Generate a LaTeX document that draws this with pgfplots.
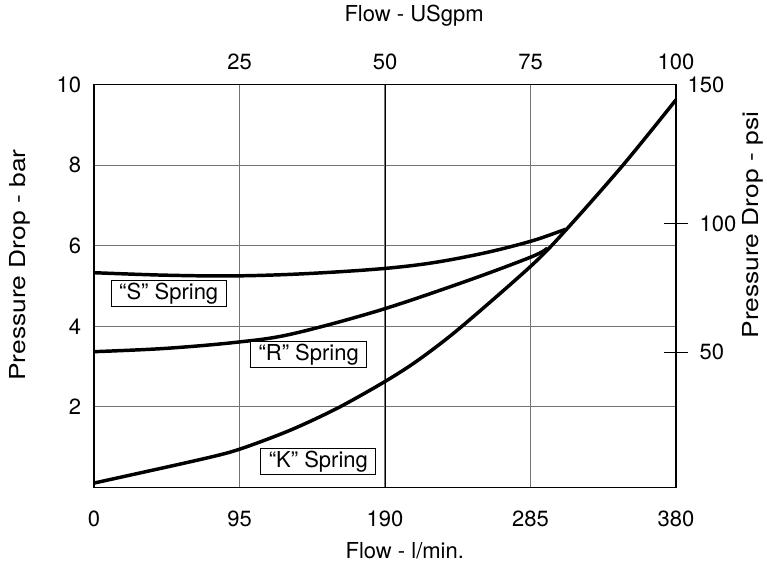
\documentclass[border=0pt]{standalone}
\usepackage{fontspec}
\setmainfont{TeX Gyre Heros}
\usepackage{graphicx}
\usepackage{pgfplots}
\pgfplotsset{compat=1.18}

\begin{document}
\fontsize{16.5}{19}\selectfont
\begin{tikzpicture}
% main axis: Flow l/min vs Pressure Drop bar
\begin{axis}[
    at={(0,0)}, anchor=south west,
    width=436.5pt, height=302.25pt, scale only axis,
    xmin=0, xmax=380, ymin=0, ymax=10,
    xtick={0,95,190,285,380},
    ytick={2,4,6,8,10},
    xmajorgrids=true, ymajorgrids=true,
    grid style={black!55, line width=0.8pt},
    extra x ticks={190}, extra x tick labels={},
    extra x tick style={grid style={black, line width=0.7pt}},
    major tick length=0pt,
    tick pos=left,
    axis line style={line width=1.1pt},
    /pgf/number format/assume math mode=true,
    xticklabel shift=12pt,
    yticklabel shift=4pt,
    xlabel={Flow - l/min.},
    ylabel={\scalebox{1.2}[1]{Pressure Drop - bar}},
    xlabel style={at={(axis description cs:0.534,-0.158)}, anchor=center},
    ylabel style={at={(axis description cs:-0.127,0.552)}, anchor=center},
    clip=false,
]
% "S" spring
\addplot[black, line width=2.6pt, smooth, tension=0.55] coordinates {
    (0,5.33) (45,5.27) (90,5.25) (135,5.30) (185,5.42) (220,5.57)
    (255,5.82) (286,6.12) (308,6.41)
};
% "R" spring
\addplot[black, line width=2.6pt, smooth, tension=0.55] coordinates {
    (0,3.37) (46,3.45) (92,3.60) (128,3.80) (185,4.38) (243,5.12)
    (286,5.73) (296,5.94)
};
% "K" spring
\addplot[black, line width=2.6pt, smooth, tension=0.5] coordinates {
    (0,0.11) (70,0.70) (95,0.95) (128,1.42) (159,1.97) (190,2.63)
    (212,3.17) (239,3.96) (286,5.52) (308.6,6.41) (345.4,8.00) (380,9.62)
};
\node[draw, line width=0.6pt, fill=white, inner xsep=6pt, inner ysep=2pt,
      text height=0.74em, text depth=0.22em] at (axis cs:48.8,4.81) {“S” Spring};
\node[draw, line width=0.6pt, fill=white, inner xsep=6pt, inner ysep=2pt,
      text height=0.74em, text depth=0.22em] at (axis cs:140.2,3.30) {“R” Spring};
\node[draw, line width=0.6pt, fill=white, inner xsep=6pt, inner ysep=2pt,
      text height=0.74em, text depth=0.22em] at (axis cs:146.5,0.645) {“K” Spring};
\end{axis}
% secondary scales: USgpm on top, psi on the right
\begin{axis}[
    at={(0,0)}, anchor=south west,
    width=436.5pt, height=302.25pt, scale only axis,
    xmin=0, xmax=380, ymin=0, ymax=10,
    axis line style={line width=1.1pt},
    xtick={95,190,285,380}, xticklabels={25,50,75,100},
    ytick={3.36,6.54}, yticklabels={50,100},
    extra y ticks={10}, extra y tick labels={150},
    extra y tick style={major tick length=0pt},
    xtick pos=right, xticklabel pos=right,
    ytick pos=right, yticklabel pos=right,
    xtick style={draw=none},
    ytick style={black, line width=0.8pt},
    tick align=center, major tick length=18pt,
    /pgf/number format/assume math mode=true,
    xticklabel shift=-4pt,
    yticklabel shift=3pt,
    xlabel={Flow - USgpm},
    ylabel={\scalebox{1.2}[1]{Pressure Drop - psi}},
    xlabel style={at={(axis description cs:0.55,1.172)}, anchor=center},
    ylabel style={at={(axis description cs:1.132,0.651)}, anchor=center},
]
\end{axis}
\pgfresetboundingbox
\path[use as bounding box] (-70.5pt,-58.125pt) rectangle (504.75pt,365.625pt);
\end{tikzpicture}
\end{document}
